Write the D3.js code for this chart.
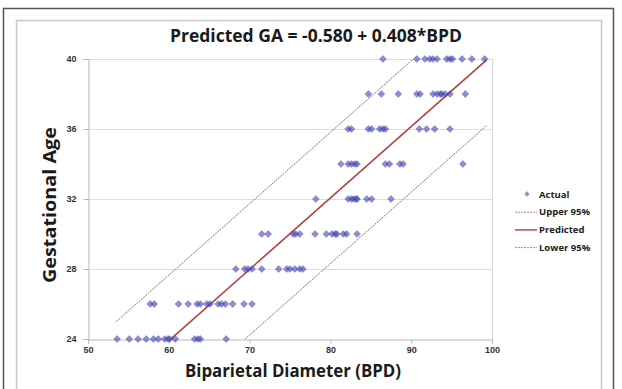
<!DOCTYPE html>
<html>
<head>
<meta charset="utf-8">
<script src="https://cdn.jsdelivr.net/npm/d3@7/dist/d3.min.js"></script>
<style>
  body { margin: 0; background: #fff; }
  svg { display: block; font-family: 'Open Sans', 'Liberation Sans', sans-serif; }
</style>
</head>
<body>
<div id="chart"></div>
<script>
// rows of gestational age (weeks) and the BPD readings found on each row
const gaRows = [24, 26, 28, 30, 32, 34, 36, 38, 40];
const bpdByRow = [
  [53.6, 55.1, 56.2, 57.2, 58.1, 58.7, 59.5, 59.9, 60.1, 60.8, 63.2, 63.6, 63.9, 67.1],
  [57.7, 58.2, 61.2, 62.4, 63.5, 63.9, 64.7, 65.1, 66.1, 66.5, 67.0, 67.9, 69.3, 70.3],
  [68.3, 69.4, 69.8, 70.3, 71.5, 73.6, 74.6, 75.0, 75.6, 76.2, 76.6],
  [71.5, 72.3, 75.4, 75.7, 76.2, 78.1, 79.5, 80.2, 80.6, 80.8, 81.6, 82.0, 83.3],
  [78.2, 82.2, 82.6, 82.9, 83.2, 83.3, 84.5, 85.1, 87.5],
  [81.3, 82.2, 82.6, 83.0, 83.3, 86.8, 87.3, 88.6, 89.0, 96.4],
  [82.2, 82.6, 84.7, 85.1, 86.1, 86.5, 86.8, 91.0, 91.9, 92.9, 94.8],
  [84.7, 86.3, 88.4, 90.7, 91.1, 92.7, 93.2, 93.6, 93.8, 94.2, 94.8, 96.7],
  [86.5, 90.7, 91.7, 92.3, 92.7, 93.2, 94.4, 94.8, 95.1, 96.3, 97.5, 99.1]
];

// fitted model from the title, and the 95% band half-width
const intercept = -0.580;
const slope = 0.408;
const bandHalf = 3.75;
const lineBpd = [53.5, 99.3];

const xTicks = [50, 60, 70, 80, 90, 100];
const yTicks = [24, 28, 32, 36, 40];
const legendItems = ["Actual", "Upper 95%", "Predicted", "Lower 95%"];

const width = 622, height = 389;
const plot = { left: 88, right: 492, top: 59, bottom: 339 };

const points = [];
gaRows.forEach((ga, i) => bpdByRow[i].forEach(b => points.push({ bpd: b, ga: ga })));

const svg = d3.select("#chart").append("svg")
  .attr("width", width)
  .attr("height", height);

// frames around the picture
svg.append("rect")
  .attr("x", 3.5).attr("y", 8.5).attr("width", 610).attr("height", 400)
  .attr("fill", "none").attr("stroke", "#555").attr("stroke-width", 1.5);
svg.append("rect")
  .attr("x", 16.5).attr("y", 20.5).attr("width", 585).attr("height", 400)
  .attr("fill", "none").attr("stroke", "#c8c8c8").attr("stroke-width", 1.5);

const x = d3.scaleLinear().domain([50, 100]).range([plot.left, plot.right]);
const y = d3.scaleLinear().domain([24, 40]).range([plot.bottom, plot.top]);

// grid lines
svg.append("g")
  .selectAll("line")
  .data(yTicks.filter(t => t > 24))
  .enter().append("line")
  .attr("x1", plot.left).attr("x2", plot.right)
  .attr("y1", d => y(d) + 0.5).attr("y2", d => y(d) + 0.5)
  .attr("stroke", "#dedede");

svg.append("line")
  .attr("x1", plot.right + 0.5).attr("x2", plot.right + 0.5)
  .attr("y1", plot.top).attr("y2", plot.bottom)
  .attr("stroke", "#d4d4d4");

const xAxis = svg.append("g")
  .attr("transform", `translate(0,${plot.bottom + 0.5})`)
  .call(d3.axisBottom(x).tickValues(xTicks).tickSize(4).tickPadding(3));
const yAxis = svg.append("g")
  .attr("transform", `translate(${plot.left + 0.5},0)`)
  .call(d3.axisLeft(y).tickValues(yTicks).tickSize(5).tickPadding(7));

[xAxis, yAxis].forEach(ax => {
  ax.select(".domain").attr("stroke", "#b8b8b8");
  ax.selectAll(".tick line").attr("stroke", "#b8b8b8");
  ax.selectAll(".tick text")
    .attr("fill", "#333")
    .style("font-size", "9px")
    .style("font-weight", "700");
});

// fitted line and band, clipped to the plot area
svg.append("defs").append("clipPath").attr("id", "plotClip")
  .append("rect")
  .attr("x", plot.left).attr("y", plot.top)
  .attr("width", plot.right - plot.left).attr("height", plot.bottom - plot.top);

const lineGen = offset => d3.line()
  .x(d => x(d))
  .y(d => y(intercept + slope * d + offset));

const lines = svg.append("g").attr("clip-path", "url(#plotClip)");
lines.append("path").datum(lineBpd)
  .attr("d", lineGen(bandHalf))
  .attr("fill", "none").attr("stroke", "#a0666a").attr("stroke-width", 1)
  .attr("stroke-dasharray", "2,1");
lines.append("path").datum(lineBpd)
  .attr("d", lineGen(-bandHalf))
  .attr("fill", "none").attr("stroke", "#a0666a").attr("stroke-width", 1)
  .attr("stroke-dasharray", "2,1");

// points: squares turned 45 degrees, like Excel's diamond marker
const diamond = d3.symbol().type(d3.symbolSquare).size(24);
svg.append("g")
  .selectAll("path")
  .data(points)
  .enter().append("path")
  .attr("d", diamond)
  .attr("transform", d => `translate(${x(d.bpd)},${y(d.ga)}) rotate(45)`)
  .attr("fill", "#4545b8")
  .attr("fill-opacity", 0.6)
  .attr("stroke", "#3a3aa8")
  .attr("stroke-opacity", 0.5)
  .attr("stroke-width", 0.6);

lines.append("path").datum(lineBpd)
  .attr("d", lineGen(0))
  .attr("fill", "none").attr("stroke", "#b8403c").attr("stroke-width", 1.6);

// titles
svg.append("text")
  .attr("x", 316).attr("y", 42)
  .attr("text-anchor", "middle")
  .attr("textLength", 292).attr("lengthAdjust", "spacingAndGlyphs")
  .style("font-size", "17px").style("font-weight", "700").attr("fill", "#1a1a1a")
  .text("Predicted GA = -0.580 + 0.408*BPD");

svg.append("text")
  .attr("x", 293).attr("y", 377)
  .attr("text-anchor", "middle")
  .attr("textLength", 216).attr("lengthAdjust", "spacingAndGlyphs")
  .style("font-size", "17px").style("font-weight", "700").attr("fill", "#1a1a1a")
  .text("Biparietal Diameter (BPD)");

svg.append("text")
  .attr("transform", "translate(56,205) rotate(-90)")
  .attr("text-anchor", "middle")
  .attr("textLength", 156).attr("lengthAdjust", "spacingAndGlyphs")
  .style("font-size", "18px").style("font-weight", "700").attr("fill", "#1a1a1a")
  .text("Gestational Age");

// legend
const legend = svg.append("g").attr("transform", "translate(515,194)");
legendItems.forEach((name, i) => {
  const g = legend.append("g").attr("transform", `translate(0,${i * 17.7})`);
  if (i === 0) {
    g.append("path").attr("d", d3.symbol().type(d3.symbolSquare).size(14))
      .attr("transform", "translate(12,0) rotate(45)")
      .attr("fill", "#4545b8").attr("fill-opacity", 0.6);
  } else {
    g.append("line").attr("x1", 0).attr("x2", 22).attr("y1", 0.5).attr("y2", 0.5)
      .attr("stroke", i === 2 ? "#b8403c" : "#c08088")
      .attr("stroke-width", i === 2 ? 1.4 : 1)
      .attr("stroke-dasharray", i === 2 ? null : "2,1");
  }
  g.append("text").attr("x", 24).attr("y", 3.5)
    .style("font-size", "9.5px").style("font-weight", "700").attr("fill", "#222")
    .text(name);
});
</script>
</body>
</html>
